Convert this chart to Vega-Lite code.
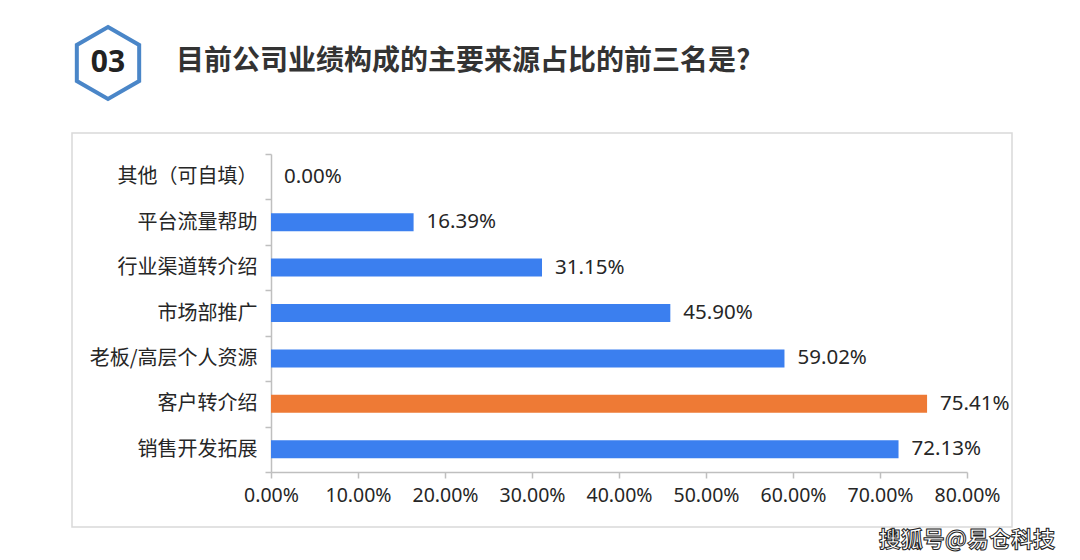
{
  "$schema": "https://vega.github.io/schema/vega-lite/v6.json",
  "width": 940,
  "height": 394,
  "autosize": {"type": "none"},
  "padding": {"left": 72, "top": 133, "right": 68, "bottom": 33},
  "background": "white",
  "config": {
    "view": {"stroke": "#d9d9d9", "strokeWidth": 1.5},
    "font": "Noto Sans CJK SC"
  },
  "layer": [
    {
      "data": {
        "values": [
          {"source": "其他（可自填）", "share": 0.0},
          {"source": "平台流量帮助", "share": 0.1639},
          {"source": "行业渠道转介绍", "share": 0.3115},
          {"source": "市场部推广", "share": 0.459},
          {"source": "老板/高层个人资源", "share": 0.5902},
          {"source": "客户转介绍", "share": 0.7541},
          {"source": "销售开发拓展", "share": 0.7213}
        ]
      },
      "layer": [
        {
          "mark": {"type": "bar", "size": 18},
          "encoding": {
            "y": {
              "field": "source",
              "type": "nominal",
              "sort": null,
              "scale": {"range": [21, 339], "paddingInner": 0, "paddingOuter": 0},
              "axis": {
                "title": null,
                "offset": -199,
                "tickBand": "extent",
                "labelFontSize": 20,
                "labelFont": "Noto Sans CJK SC",
                "labelColor": "#262626",
                "labelPadding": 8,
                "labelLimit": 300,
                "tickSize": 6,
                "tickColor": "#bfbfbf",
                "domainColor": "#bfbfbf",
                "tickWidth": 1.5,
                "domainWidth": 1.5
              }
            },
            "x": {
              "field": "share",
              "type": "quantitative",
              "scale": {"domain": [0, 0.8], "range": [199, 895], "nice": false},
              "axis": {
                "values": [0, 0.1, 0.2, 0.3, 0.4, 0.5, 0.6, 0.7, 0.8],
                "format": ".2%",
                "title": null,
                "grid": false,
                "offset": -55,
                "labelFontSize": 19.5,
                "labelFont": "Noto Sans",
                "labelColor": "#262626",
                "labelPadding": 8,
                "labelFlush": false,
                "tickSize": 6,
                "tickColor": "#bfbfbf",
                "domainColor": "#bfbfbf",
                "tickWidth": 1.5,
                "domainWidth": 1.5
              }
            },
            "color": {
              "condition": {"test": "datum.source === '客户转介绍'", "value": "#EE7A35"},
              "value": "#3B7FEF"
            }
          }
        },
        {
          "mark": {"type": "text", "align": "left", "baseline": "middle", "dx": 13, "fontSize": 20.5, "font": "Noto Sans", "color": "#262626"},
          "encoding": {
            "y": {"field": "source", "type": "nominal", "sort": null},
            "x": {"field": "share", "type": "quantitative"},
            "text": {"field": "share", "type": "quantitative", "format": ".2%"}
          }
        }
      ]
    },
    {
      "data": {"values": [{"label": "03"}]},
      "mark": {"type": "point", "shape": "M0,-1L0.866,-0.5L0.866,0.5L0,1L-0.866,0.5L-0.866,-0.5Z", "size": 5184, "filled": false, "color": "#4A86C8", "strokeWidth": 4, "opacity": 1},
      "encoding": {
        "x": {"datum": 0.0383, "type": "quantitative", "scale": {"domain": [0, 1]}, "axis": null},
        "y": {"datum": 1.1777, "type": "quantitative", "scale": {"domain": [0, 1]}, "axis": null}
      }
    },
    {
      "data": {"values": [{"label": "03"}]},
      "mark": {"type": "text", "align": "center", "baseline": "middle", "fontSize": 30, "fontWeight": "bold", "font": "Noto Sans", "color": "#222222"},
      "encoding": {
        "x": {"datum": 0.0383, "type": "quantitative", "scale": {"domain": [0, 1]}, "axis": null},
        "y": {"datum": 1.1777, "type": "quantitative", "scale": {"domain": [0, 1]}, "axis": null},
        "text": {"field": "label"}
      }
    },
    {
      "data": {"values": [{"label": "目前公司业绩构成的主要来源占比的前三名是?"}]},
      "mark": {"type": "text", "align": "left", "baseline": "middle", "fontSize": 28, "fontWeight": "bold", "font": "Noto Sans CJK SC", "color": "#333333"},
      "encoding": {
        "x": {"datum": 0.11064, "type": "quantitative", "scale": {"domain": [0, 1]}, "axis": null},
        "y": {"datum": 1.1802, "type": "quantitative", "scale": {"domain": [0, 1]}, "axis": null},
        "text": {"field": "label"}
      }
    },
    {
      "data": {"values": [{"label": "搜狐号@易仓科技"}]},
      "mark": {"type": "text", "align": "right", "baseline": "middle", "fontSize": 22, "fontWeight": "bold", "font": "Noto Sans CJK SC", "fill": "#ffffff", "stroke": "#222222", "strokeWidth": 1},
      "encoding": {
        "x": {"datum": 1.04574, "type": "quantitative", "scale": {"domain": [0, 1]}, "axis": null},
        "y": {"datum": -0.033, "type": "quantitative", "scale": {"domain": [0, 1]}, "axis": null},
        "text": {"field": "label"}
      }
    }
  ],
  "resolve": {"scale": {"x": "independent", "y": "independent"}}
}
